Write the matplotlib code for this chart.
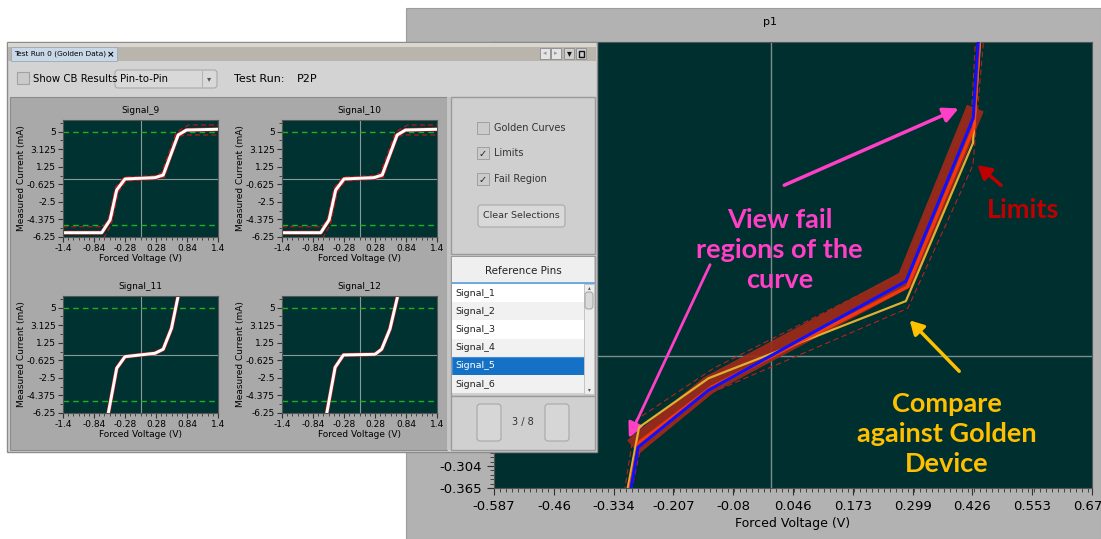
import numpy as np
import matplotlib.pyplot as plt
from matplotlib.patches import Rectangle, FancyBboxPatch
from matplotlib.ticker import AutoMinorLocator

# ---------------- data ----------------
# big plot "p1"
meas_v = [-0.300, -0.297, -0.282, -0.133, 0.285, 0.4275, 0.438, 0.445]
meas_i = [-0.45, -0.366, -0.252, -0.094, 0.208, 0.660, 0.871, 0.95]
gold_v = [-0.306, -0.304, -0.280, -0.133, 0.285, 0.427, 0.442, 0.447]
gold_i = [-0.45, -0.366, -0.197, -0.061, 0.153, 0.591, 0.871, 0.95]
fail_v = [-0.301, -0.299, -0.281, -0.126, 0.288, 0.429, 0.440, 0.446]
fail_i = [-0.45, -0.366, -0.240, -0.085, 0.192, 0.635, 0.871, 0.95]
lim_hi_v = [-0.312, -0.310, -0.287, -0.122, 0.280, 0.425, 0.432, 0.437]
lim_hi_i = [-0.45, -0.366, -0.177, -0.033, 0.232, 0.700, 0.871, 0.95]
lim_lo_v = [-0.297, -0.295, -0.278, -0.125, 0.289, 0.427, 0.449, 0.455]
lim_lo_i = [-0.45, -0.366, -0.262, -0.100, 0.133, 0.530, 0.871, 0.95]
band_v = [-0.293, -0.133, 0.285, 0.432]
band_i = [-0.252, -0.080, 0.213, 0.688]

big_xticks = [-0.587, -0.46, -0.334, -0.207, -0.08, 0.046, 0.173, 0.299, 0.426, 0.553, 0.679]
big_yticks = [-0.365, -0.304, -0.243, -0.182, -0.122, -0.061, 0.0, 0.061, 0.122,
              0.182, 0.243, 0.304, 0.365, 0.426, 0.487, 0.547, 0.608, 0.669, 0.730, 0.791, 0.852]
big_ylabels_shown = [-0.365, -0.304]   # the rest sits behind the docked window

# small plots (Forced Voltage V, Measured Current mA)
small_xticks = [-1.4, -0.84, -0.28, 0.28, 0.84, 1.4]
small_yticks = [-6.25, -4.375, -2.5, -0.625, 1.25, 3.125, 5]
green_limits = [5, -5]

s9_v = [-1.4, -0.70, -0.55, -0.43, -0.28, 0.26, 0.41, 0.68, 0.83, 1.4]
s9_i = [-5.79, -5.79, -4.43, -1.23, -0.05, 0.09, 0.37, 4.65, 5.18, 5.26]
s9_hi_v = [-1.4, -0.67, -0.57, -0.46, -0.30, 0.24, 0.38, 0.64, 0.71, 0.87, 1.4]
s9_hi_i = [-5.15, -5.15, -4.2, -1.0, 0.15, 0.3, 0.6, 4.8, 5.18, 5.72, 5.72]
s9_lo_v = [-1.4, -0.67, -0.53, -0.40, -0.26, 0.28, 0.44, 0.65, 0.83, 1.4]
s9_lo_i = [-6.4, -6.4, -4.97, -1.45, -0.25, -0.1, 0.15, 4.47, 4.65, 4.65]

s10_v = [-1.4, -0.70, -0.55, -0.43, -0.28, 0.26, 0.41, 0.68, 0.83, 1.4]
s10_i = [-5.79, -5.79, -4.43, -1.23, -0.05, 0.09, 0.37, 4.65, 5.18, 5.26]

s11_v = [-0.61, -0.58, -0.43, -0.28, 0.26, 0.41, 0.56, 0.68, 0.72]
s11_i = [-7.0, -6.22, -1.47, -0.23, 0.13, 0.56, 2.80, 6.25, 7.0]
s12_v = [-0.62, -0.59, -0.44, -0.29, 0.28, 0.40, 0.55, 0.69, 0.72]
s12_i = [-7.0, -6.22, -1.37, -0.05, 0.02, 0.56, 2.72, 6.25, 7.0]

pins = ["Signal_1", "Signal_2", "Signal_3", "Signal_4", "Signal_5", "Signal_6"]
selected_pin = "Signal_5"

# ---------------- figure ----------------
W, H = 1101, 539
fig = plt.figure(figsize=(W / 100, H / 100), dpi=100)
plt.rcParams['font.family'] = ['DejaVu Sans']


def ax_px(l, t, r, b, **kw):
    return fig.add_axes([l / W, 1 - b / H, (r - l) / W, (b - t) / H], **kw)


def rect(ax, l, t, r, b, fc, ec='none', lw=0.8, z=1):
    ax.add_patch(Rectangle((l, t), r - l, b - t, fc=fc, ec=ec, lw=lw, zorder=z))


def button(ax, l, t, r, b, fc='#d8d8d8', ec='#a6a6a6'):
    ax.add_patch(FancyBboxPatch((l, t), r - l, b - t, boxstyle="round,pad=0,rounding_size=3",
                                fc=fc, ec=ec, lw=0.8, zorder=2))


# background with grey graph panel
bg = ax_px(0, 0, W, H, zorder=0)
bg.set_xlim(0, W)
bg.set_ylim(H, 0)
bg.axis('off')
rect(bg, 406, 8, 1101, 539, '#b2b2b2', '#9c9c9c')
bg.text(770, 22, 'p1', ha='center', va='center', fontsize=8)

# -------- big plot --------
big = ax_px(494, 42, 1092, 488, zorder=1)
big.set_facecolor('#002f2f')
big.axvline(0, color='#7d8c8c', lw=1, zorder=1)
big.axhline(0, color='#7d8c8c', lw=1, zorder=1)

big.plot(lim_hi_v, lim_hi_i, color='#b82020', lw=0.8, ls=(0, (5, 3)), zorder=2)
big.plot(lim_lo_v, lim_lo_i, color='#b82020', lw=0.8, ls=(0, (5, 3)), zorder=2)
big.plot(band_v, band_i, color='#9e2a1b', lw=13, alpha=0.93, solid_capstyle='butt',
         solid_joinstyle='miter', zorder=3)
big.plot(gold_v, gold_i, color='#e0b030', lw=1.6, zorder=4)
big.plot(fail_v, fail_i, color='#ff3a0a', lw=2.4, alpha=0.9, zorder=5)
big.plot(meas_v, meas_i, color='#1010ff', lw=2.2, zorder=6)

big.set_xlim(-0.587, 0.679)
big.set_ylim(-0.365, 0.871)
big.set_xticks(big_xticks)
big.set_xticklabels(['%g' % v for v in big_xticks])
big.set_yticks(big_yticks)
big.set_yticklabels(['%g' % v if v in big_ylabels_shown else '' for v in big_yticks])
big.xaxis.set_minor_locator(AutoMinorLocator(10))
big.yaxis.set_minor_locator(AutoMinorLocator(5))
big.tick_params(which='major', length=5, labelsize=9.5, direction='out', color='#303030')
big.tick_params(which='minor', length=3, direction='out', color='#303030')
for s in big.spines.values():
    s.set_color('#555555')
big.set_xlabel('Forced Voltage (V)', fontsize=9, labelpad=3)

# call-outs
fnt = dict(family=['Lato', 'DejaVu Sans'], weight='bold', ha='center', va='center',
           linespacing=1.3)
pink, red, gold = '#ff3fc6', '#c00000', '#ffc000'
big.text(0.018, 0.294, 'View fail\nregions of the\ncurve', color=pink, fontsize=19.5, **fnt)
big.annotate('', xy=(0.402, 0.690), xytext=(0.022, 0.471),
             arrowprops=dict(arrowstyle='-|>,head_length=0.9,head_width=0.45', color=pink, lw=2.5))
big.annotate('', xy=(-0.304, -0.233), xytext=(-0.127, 0.261),
             arrowprops=dict(arrowstyle='-|>,head_length=0.9,head_width=0.45', color=pink, lw=2.0))
big.text(0.534, 0.405, 'Limits', color=red, fontsize=19.5, **fnt)
big.annotate('', xy=(0.432, 0.535), xytext=(0.491, 0.469),
             arrowprops=dict(arrowstyle='-|>,head_length=0.8,head_width=0.45', color=red, lw=2.5))
big.text(0.372, -0.214, 'Compare\nagainst Golden\nDevice', color=gold, fontsize=19.5, **fnt)
big.annotate('', xy=(0.289, 0.105), xytext=(0.402, -0.047),
             arrowprops=dict(arrowstyle='-|>,head_length=0.8,head_width=0.45', color=gold, lw=2.5))

# -------- left window (UI) --------
ov = ax_px(0, 0, W, H, zorder=2)
ov.set_xlim(0, W)
ov.set_ylim(H, 0)
ov.axis('off')
ov.patch.set_alpha(0)

rect(ov, 7, 42, 597, 452, '#d3d3d3', '#8c8c8c', 1.0)
rect(ov, 8, 43, 596, 47, '#dad6cf')
rect(ov, 8, 47, 596, 61, '#b9b5ad')
rect(ov, 11, 47, 117, 61, '#c9d8e6', '#9aa8b8', 0.6)
ov.text(14, 54, 'Test Run 0 (Golden Data)', fontsize=5.3, va='center')
ov.text(111, 54.5, '×', fontsize=6.5, va='center', ha='center', weight='bold')
for x0, fc in [(540, '#e4e4e4'), (551, '#e4e4e4'), (564, '#cfcfcf'), (576, '#cfcfcf')]:
    rect(ov, x0, 48, x0 + 10, 59, fc, '#8a8a8a', 0.6, z=2)
ov.text(545, 53.5, '◂', fontsize=5, ha='center', va='center', color='#999999', zorder=3)
ov.text(556, 53.5, '▸', fontsize=5, ha='center', va='center', color='#999999', zorder=3)
ov.text(569, 53.5, '▾', fontsize=7, ha='center', va='center', color='#111111', zorder=3)
rect(ov, 578.5, 50.5, 583.5, 56.5, 'none', '#111111', 1.0, z=3)

# toolbar row
rect(ov, 17, 72, 29, 84, '#cacaca', '#a2a2a2', 0.8, z=2)
ov.text(33, 78.5, 'Show CB Results', fontsize=7.3, va='center')
button(ov, 115, 70, 217, 88, '#d9d9d9', '#aaaaaa')
ov.plot([202, 202], [71, 87], color='#b5b5b5', lw=0.8, zorder=3)
ov.text(120, 79, 'Pin-to-Pin', fontsize=7.3, va='center', zorder=3)
ov.text(209.5, 79, '▾', fontsize=6, ha='center', va='center', color='#555555', zorder=3)
ov.text(234, 79, 'Test Run:', fontsize=8, va='center')
ov.text(297, 79, 'P2P', fontsize=8, va='center')

# graph container + splitter
rect(ov, 10, 97, 447, 450, '#a9a9a9', '#8b8b8b', 0.8)
rect(ov, 447, 97, 451, 450, '#c6c6c6')

# option panel
rect(ov, 451, 97, 595, 254, '#cfcfcf', '#9a9a9a', 1.0)
for (y, lab, chk) in [(128, 'Golden Curves', False), (153, 'Limits', True), (179, 'Fail Region', True)]:
    rect(ov, 477, y - 6, 489, y + 6, '#cbcbcb', '#a0a0a0', 0.7, z=2)
    if chk:
        ov.text(483, y + 0.5, '✓', fontsize=7, ha='center', va='center', color='#222222', zorder=3)
    ov.text(494, y, lab, fontsize=7, va='center', color='#333333')
button(ov, 478, 205, 565, 227, '#d9d9d9', '#a8a8a8')
ov.text(521.5, 216, 'Clear Selections', fontsize=6.8, ha='center', va='center', color='#333333', zorder=3)

# reference pins list
rect(ov, 451, 256, 595, 396, '#d0d0d0', '#9a9a9a', 1.0)
rect(ov, 452, 257, 594, 283, '#efefef')
ov.text(523, 270.5, 'Reference Pins', fontsize=7.5, ha='center', va='center', color='#222222')
ov.plot([452, 594], [283, 283], color='#5a9fe0', lw=1.2, zorder=3)
row_h = 18.2
for k, p in enumerate(pins):
    y0 = 284 + k * row_h
    if p == selected_pin:
        rect(ov, 452, y0, 584, y0 + row_h, '#1571c6', '#3f8fdc', 0.8, z=2)
        col = 'white'
    else:
        rect(ov, 452, y0, 584, y0 + row_h, '#ffffff' if k % 2 == 0 else '#f1f1f1', z=2)
        col = '#222222'
    ov.text(455, y0 + row_h / 2, p, fontsize=6.8, va='center', color=col, zorder=3)
rect(ov, 584, 284, 594, 394, '#ededed', '#c0c0c0', 0.6, z=2)
button(ov, 585, 292, 593, 309, '#dadada', '#a8a8a8')
ov.text(589, 288, '▴', fontsize=4, ha='center', va='center', color='#555555', zorder=3)
ov.text(589, 390, '▾', fontsize=4, ha='center', va='center', color='#555555', zorder=3)

# paging
rect(ov, 451, 396, 595, 450, '#d0d0d0', '#9a9a9a', 1.0)
button(ov, 477, 404, 501, 441, '#d6d6d6', '#a8a8a8')
button(ov, 545, 404, 569, 441, '#d6d6d6', '#a8a8a8')
ov.text(523, 422.5, '3 / 8', fontsize=7, ha='center', va='center', color='#333333')

# -------- small signal plots --------
small = [
    ('Signal_9', (63, 120, 218, 237), s9_v, s9_i, True),
    ('Signal_10', (282, 120, 437, 237), s10_v, s10_i, True),
    ('Signal_11', (63, 296, 218, 413), s11_v, s11_i, False),
    ('Signal_12', (282, 296, 437, 413), s12_v, s12_i, False),
]
for name, box, v, i, sat in small:
    ax = ax_px(*box, zorder=3)
    ax.set_facecolor('#003232')
    ax.axvline(0, color='#8a9a9a', lw=0.8)
    ax.axhline(0, color='#8a9a9a', lw=0.8)
    for g in green_limits:
        ax.axhline(g, color='#1fb21f', lw=1.0, ls=(0, (4, 3)))
    if sat:
        ax.plot(s9_hi_v, s9_hi_i, color='#b01818', lw=0.9, ls=(0, (4, 2.5)))
        ax.plot(s9_lo_v, s9_lo_i, color='#b01818', lw=0.9, ls=(0, (4, 2.5)))
    ax.plot(v, i, color='#e02020', lw=2.8)
    ax.plot(v, i, color='white', lw=2.1)
    ax.set_xlim(-1.4, 1.4)
    ax.set_ylim(-6.25, 6.25)
    ax.set_xticks(small_xticks)
    ax.set_xticklabels(['%g' % t for t in small_xticks])
    ax.set_yticks(small_yticks)
    ax.set_yticklabels(['%g' % t for t in small_yticks])
    ax.xaxis.set_minor_locator(AutoMinorLocator(6))
    ax.yaxis.set_minor_locator(AutoMinorLocator(2))
    ax.tick_params(which='major', length=3.5, labelsize=6.5, pad=1.5, color='#333333')
    ax.tick_params(which='minor', length=2, color='#333333')
    for s in ax.spines.values():
        s.set_color('#555555')
        s.set_linewidth(0.8)
    ax.set_title(name, fontsize=6.5, pad=5)
    ax.set_xlabel('Forced Voltage (V)', fontsize=6.5, labelpad=1)
    ax.set_ylabel('Measured Current (mA)', fontsize=6.5, labelpad=1)

fig.savefig('out.png', dpi=100)
